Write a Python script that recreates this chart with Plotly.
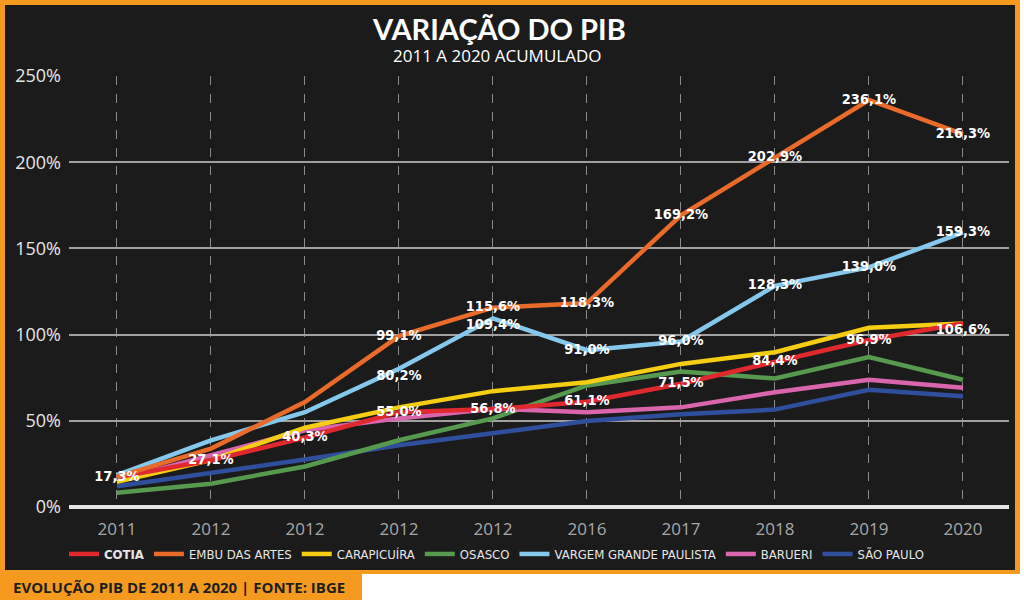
import plotly.graph_objects as go

# eixo x (rotulos repetidos como no original)
anos = ['2011', '2012', '2012', '2012', '2012', '2016', '2017', '2018', '2019', '2020']
idx = list(range(len(anos)))

cotia = [17.3, 27.1, 40.3, 55.0, 56.8, 61.1, 71.5, 84.4, 96.9, 106.6]
embu = [17.5, 33.9, 60.9, 99.1, 115.6, 118.3, 169.2, 202.9, 236.1, 216.3]
carapicuiba = [14.6, 27.2, 46.0, 57.8, 67.2, 72.4, 83.0, 89.8, 104.0, 106.5]
osasco = [8.3, 13.5, 23.5, 38.7, 51.4, 70.5, 78.6, 74.5, 86.9, 73.8]
vargem = [18.5, 38.7, 55.0, 80.2, 109.4, 91.0, 96.0, 128.3, 139.0, 159.3]
barueri = [15.6, 30.0, 44.5, 51.4, 57.0, 55.0, 57.8, 66.6, 73.8, 69.2]
sao_paulo = [12.0, 19.5, 27.5, 35.8, 43.0, 49.9, 53.8, 56.5, 68.0, 64.3]

y_ticks = [0, 50, 100, 150, 200, 250]

COND = 'DejaVu Sans Condensed, Liberation Sans Narrow, sans-serif'

# geometria da area do grafico em pixels
W, H = 1024, 600
L, R, T, B = 69, 1009, 76, 507


def px_x(p):
    return (p - L) / (R - L)


def px_y(p):
    return (B - p) / (B - T)


def fmt(v):
    return f'{v:.1f}%'.replace('.', ',')


fig = go.Figure()

series = [
    ('SÃO PAULO', sao_paulo, '#2f4f9c', 7),
    ('OSASCO', osasco, '#56994f', 4),
    ('BARUERI', barueri, '#d965ad', 6),
    ('CARAPICUÍRA', carapicuiba, '#f5cd12', 3),
    ('<b>COTIA</b>', cotia, '#e0282f', 1),
    ('VARGEM GRANDE PAULISTA', vargem, '#86c8ec', 5),
    ('EMBU DAS ARTES', embu, '#e96b2b', 2),
]

for name, vals, color, rank in series:
    fig.add_trace(go.Scatter(x=idx, y=vals, name=name, mode='lines', legendrank=rank,
                             line=dict(color=color, width=4.5), hoverinfo='skip'))

# rotulos de valores
lab_x, lab_y, lab_t, lab_p = [], [], [], []
for i, v in enumerate(cotia):
    lab_x.append(i); lab_y.append(v); lab_t.append(fmt(v))
    lab_p.append('bottom center' if i == 9 else 'middle center')
for i in range(3, 10):
    lab_x.append(i); lab_y.append(embu[i]); lab_t.append(fmt(embu[i]))
    lab_p.append('middle center')
    lab_x.append(i); lab_y.append(vargem[i]); lab_t.append(fmt(vargem[i]))
    lab_p.append('bottom center' if i in (3, 4) else 'middle center')

fig.add_trace(go.Scatter(x=lab_x, y=lab_y, text=lab_t, mode='text', textposition=lab_p,
                         textfont=dict(family=COND, size=14.5, color='white', weight='bold'),
                         showlegend=False, hoverinfo='skip'))

shapes = [
    # moldura laranja
    dict(type='rect', xref='paper', yref='paper', layer='below',
         x0=px_x(0), x1=px_x(1020), y0=px_y(574), y1=px_y(0),
         fillcolor='#f39a1f', line_width=0),
    dict(type='rect', xref='paper', yref='paper', layer='below',
         x0=px_x(0), x1=px_x(362), y0=px_y(600), y1=px_y(574),
         fillcolor='#f39a1f', line_width=0),
    # painel escuro
    dict(type='rect', xref='paper', yref='paper', layer='below',
         x0=px_x(5), x1=px_x(1015), y0=px_y(570), y1=px_y(5),
         fillcolor='#1b1b1b', line_width=0),
]

annotations = [
    dict(text='<b>VARIAÇÃO DO PIB</b>', xref='paper', yref='paper', x=px_x(499), y=px_y(29),
         showarrow=False, font=dict(family='Lato, Open Sans, sans-serif', size=29, color='white',
                                    weight=900),
         xanchor='center', yanchor='middle'),
    dict(text='2011 A 2020 ACUMULADO', xref='paper', yref='paper', x=px_x(497), y=px_y(55),
         showarrow=False, font=dict(family='Open Sans, sans-serif', size=17, color='white'),
         xanchor='center', yanchor='middle'),
    dict(text='EVOLUÇÃO PIB DE 2011 A 2020 | FONTE: IBGE', xref='paper', yref='paper',
         x=px_x(11), y=px_y(587), showarrow=False,
         font=dict(family='Open Sans, sans-serif', size=15, color='#1e1e1e', weight=700),
         xanchor='left', yanchor='middle'),
]

fig.update_layout(
    width=W, height=H,
    margin=dict(l=L, r=W - R, t=T, b=H - B, pad=0, autoexpand=False),
    paper_bgcolor='white',
    plot_bgcolor='rgba(0,0,0,0)',
    shapes=shapes,
    annotations=annotations,
    showlegend=True,
    legend=dict(orientation='h', x=px_x(64), y=px_y(554), xanchor='left', yanchor='middle',
                font=dict(family=COND, size=13, color='#e6e6e6'),
                bgcolor='rgba(0,0,0,0)', itemwidth=30, tracegroupgap=0),
    xaxis=dict(range=[-0.51, 9.49], tickvals=idx, ticktext=anos, showgrid=True,
               gridcolor='#8a8a8a', griddash='dash', gridwidth=1, zeroline=False,
               showline=False, ticks='', ticklabelstandoff=10,
               tickfont=dict(family='Open Sans, sans-serif', size=17, color='#a8a8a8')),
    yaxis=dict(range=[0, 250], tickvals=y_ticks, ticktext=[f'{v}%' for v in y_ticks],
               showgrid=True, gridcolor='#a0a0a0', gridwidth=2, zeroline=True,
               zerolinecolor='#e6e6e6', zerolinewidth=4, showline=False, ticks='',
               ticklabelstandoff=7,
               tickfont=dict(family='Open Sans, sans-serif', size=18, color='#e6e6e6')),
)

# tira a margem padrao do body para o grafico ocupar a janela toda
fig.write_html('out.html', config={'displayModeBar': False},
               post_script="document.body.style.margin='0';")
